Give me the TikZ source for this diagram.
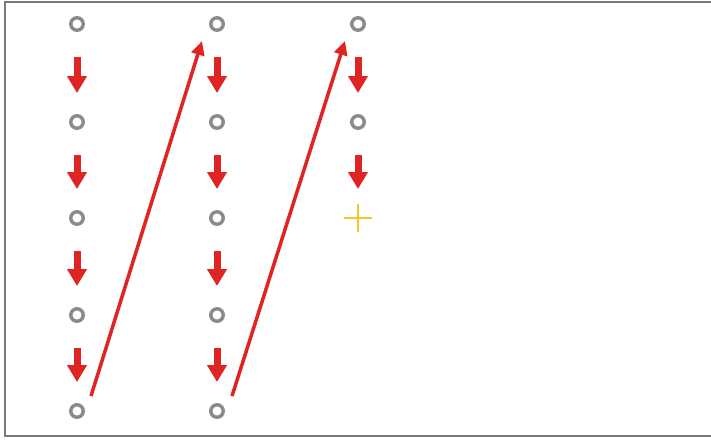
\documentclass[tikz,border=0pt]{standalone}
\usetikzlibrary{arrows.meta,calc}
\definecolor{ringgray}{HTML}{8A8A8A}
\definecolor{arrred}{HTML}{E02424}
\definecolor{plusyel}{HTML}{F2C631}
\definecolor{framegray}{HTML}{7A7A7A}
\begin{document}
\begin{tikzpicture}[x=1pt,y=-1pt,
  ring/.style={circle,draw=ringgray,line width=3.4pt,minimum size=12.5pt,inner sep=0pt},
  downarr/.style={draw=arrred,line width=7pt,-{Triangle[width=19pt,length=17pt]},shorten <=33pt,shorten >=29pt},
  diagarr/.style={draw=arrred,line width=3.5pt,-{Triangle[width=13pt,length=14pt]}}]
\useasboundingbox (0,0) rectangle (711,439);
\fill[white] (0,0) rectangle (711,439);
\draw[framegray,line width=2pt] (715,2) -- (5,2) -- (5,436) -- (715,436);
% rings
\foreach \c/\x in {1/77,2/217} {
  \foreach \r/\y in {1/24,2/122,3/218,4/315,5/411} {
    \node[ring] (c\c\r) at (\x,\y) {};
  }
}
\node[ring] (c31) at (358,24) {};
\node[ring] (c32) at (358,122) {};
\coordinate (plus) at (358,218);
% down arrows
\foreach \c in {1,2} {
  \draw[downarr] (c\c1.center) -- (c\c2.center);
  \draw[downarr] (c\c2.center) -- (c\c3.center);
  \draw[downarr] (c\c3.center) -- (c\c4.center);
  \draw[downarr] (c\c4.center) -- (c\c5.center);
}
\draw[downarr] (c31.center) -- (c32.center);
\draw[downarr] (c32.center) -- (plus);
% diagonal arrows
\draw[diagarr] ($(c15)+(14,-15)$) -- ($(c21)+(-15,17)$);
\draw[diagarr] ($(c25)+(15,-15)$) -- ($(c31)+(-13,17)$);
% plus
\draw[plusyel,line width=1.6pt] ($(plus)+(-14,0)$) -- ($(plus)+(14,0)$);
\draw[plusyel,line width=1.6pt] ($(plus)+(0,-14)$) -- ($(plus)+(0,14)$);
\end{tikzpicture}
\end{document}
